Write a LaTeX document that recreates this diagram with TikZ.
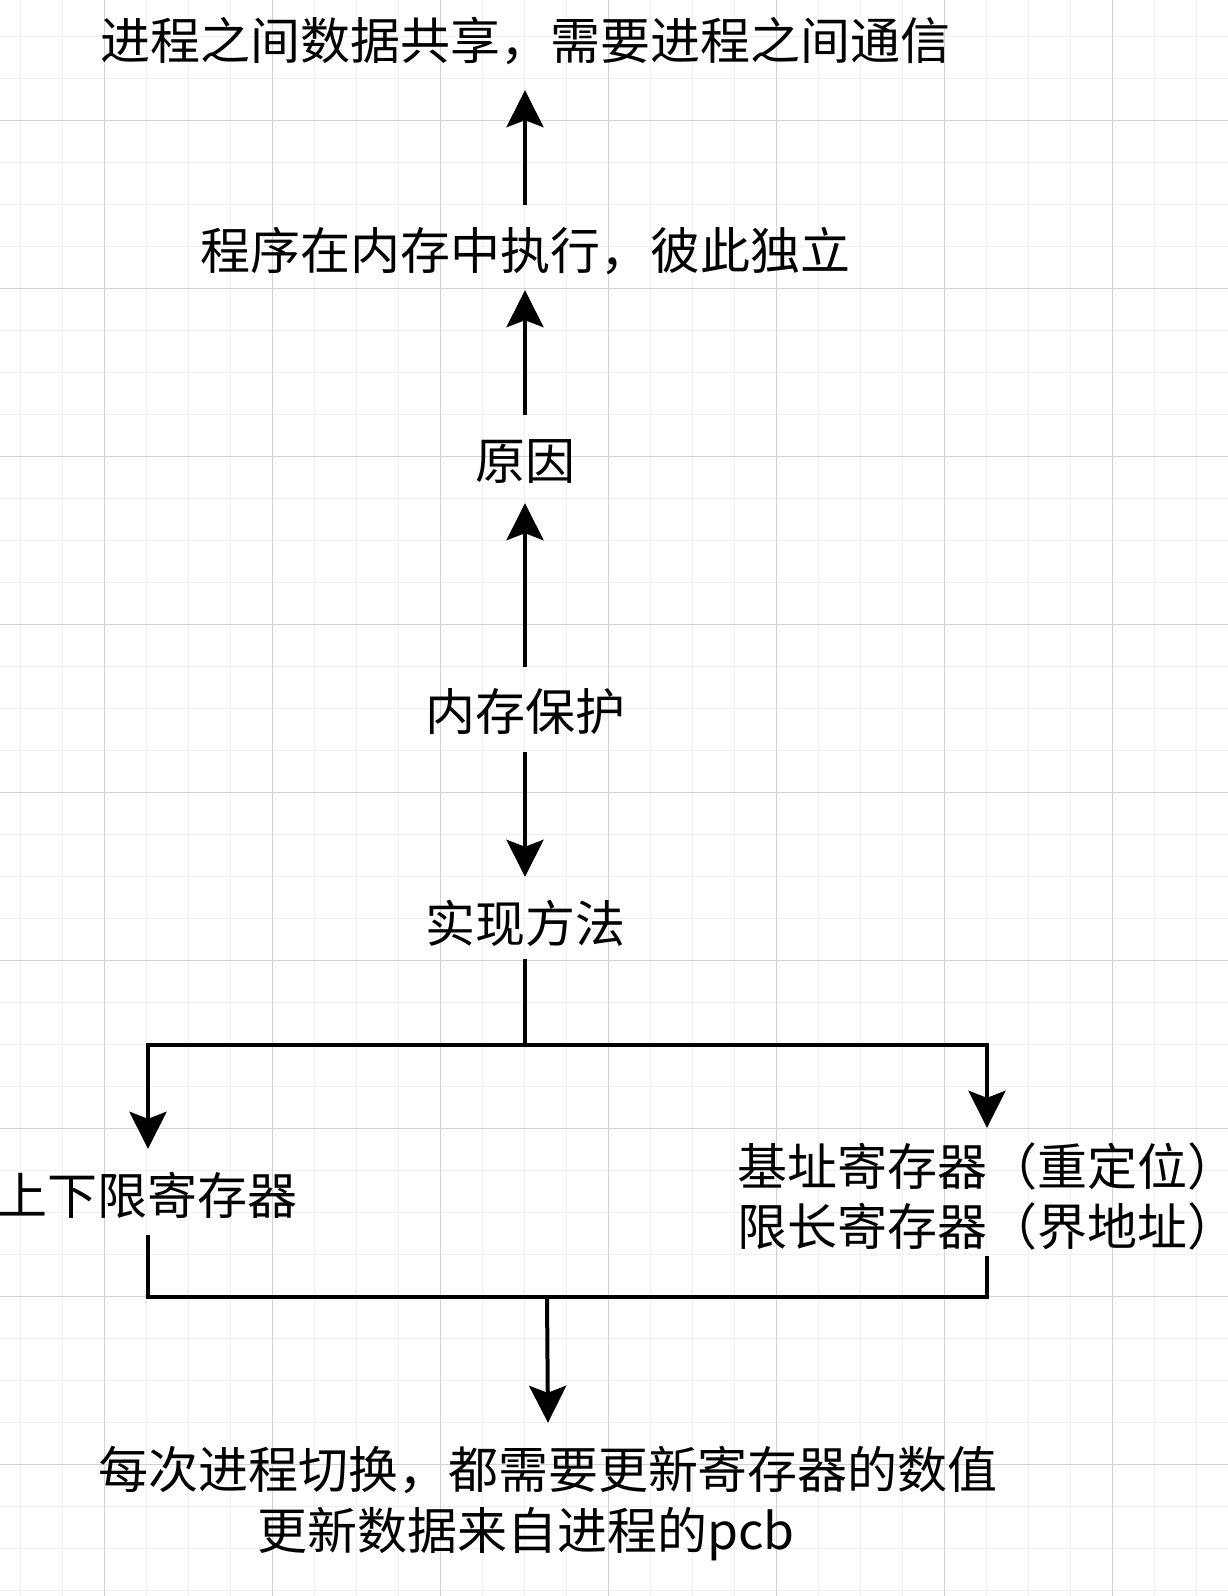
\documentclass[tikz,border=0pt]{standalone}
\usepackage{fontspec}
\setmainfont{Noto Sans CJK SC}
\usetikzlibrary{arrows.meta}
\begin{document}
\begin{tikzpicture}[x=1pt,y=-1pt,
  lbl/.style={font=\fontsize{50}{60}\selectfont, inner sep=0pt, text height=40pt, text depth=10pt, anchor=base},
  arr/.style={line width=4pt, line join=miter, -{Stealth[length=37pt,width=37pt,inset=7pt]}},
  conn/.style={line width=4pt, line join=miter},
  minorgrid/.style={draw=black!6, line width=1pt},
  majorgrid/.style={draw=black!18, line width=1pt}]
\useasboundingbox (0,0) rectangle (1228,1596);
\fill[white] (0,0) rectangle (1228,1596);
\foreach \k in {0,...,28} \draw[minorgrid] ({20.5+42*\k},0) -- ++(0,1596);
\foreach \k in {0,...,37} \draw[minorgrid] (0,{36+42*\k}) -- ++(1228,0);
\foreach \k in {0,...,6} \draw[majorgrid] ({104.5+168*\k},0) -- ++(0,1596);
\foreach \k in {0,...,8} \draw[majorgrid] (0,{120+168*\k}) -- ++(1228,0);

\node[lbl] (t1) at (525,59) {进程之间数据共享，需要进程之间通信};
\node[lbl] (t2) at (525,269) {程序在内存中执行，彼此独立};
\node[lbl] (t3) at (525,479) {原因};
\node[lbl] (t4) at (525,730) {内存保护};
\node[lbl] (t5) at (525,942) {实现方法};
\node[lbl] (t6) at (148,1214) {上下限寄存器};
\node[lbl] (r1) at (987,1185) {基址寄存器（重定位）};
\node[lbl] (r2) at (987,1245) {限长寄存器（界地址）};
\node[lbl] (b1) at (548,1488) {每次进程切换，都需要更新寄存器的数值};
\node[lbl] (b2) at (526,1549) {更新数据来自进程的pcb};

\draw[arr] ([yshift=24pt]t2.north) -- ([yshift=-21pt]t1.south);
\draw[arr] ([yshift=24pt]t3.north) -- ([yshift=-11pt]t2.south);
\draw[arr] ([yshift=23pt]t4.north) -- ([yshift=-14pt]t3.south);
\draw[arr] ([yshift=-12pt]t4.south) -- ([yshift=25pt]t5.north);
\coordinate (jn) at (525,1045);
\draw[conn] ([yshift=-7pt]t5.south) -- (jn);
\draw[arr] (jn) -| ([yshift=25pt]t6.north);
\draw[arr] (jn) -| ([yshift=17pt]r1.north);
\coordinate (jb) at (547,1297);
\draw[conn] ([yshift=-11pt]t6.south) |- (jb) -| ([yshift=-1pt]r2.south);
\draw[arr] (jb) -- ([yshift=25pt]b1.north);
\end{tikzpicture}
\end{document}
